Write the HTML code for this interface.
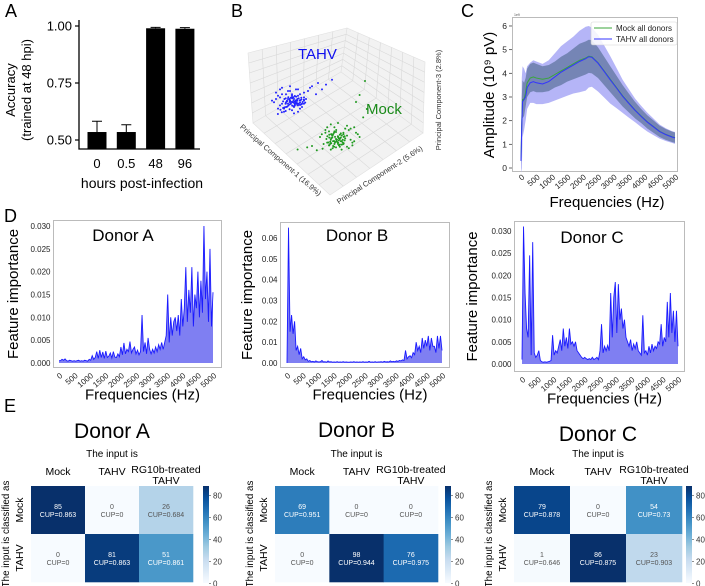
<!DOCTYPE html>
<html><head><meta charset="utf-8"><style>
html,body{margin:0;padding:0;background:#fff;}
svg{display:block;font-family:"Liberation Sans",sans-serif;}
</style></head><body>
<svg id="fig" width="705" height="586" viewBox="0 0 705 586">
<g font-size="18" fill="#000">
<text x="5" y="17">A</text>
<text x="231" y="17">B</text>
<text x="461" y="17">C</text>
<text x="4" y="222">D</text>
<text x="4" y="412">E</text>
</g>
<g id="pa"></g>
<g id="pb"></g>
<g id="pc"></g>
<g id="pd"></g>
<g id="pe"></g>
</svg>
<script>
// ---------- Panel A data ----------
const accCategories = ['0','0.5','48','96'];
const accValues = [0.535,0.535,0.99,0.988];
const accErrors = [0.047,0.032,0.004,0.005];
const accTicks = [0.50,0.75,1.00];
const accTickLabels = ['0.50','0.75','1.00'];

// ---------- Panel B data ----------
const tahvPC1 = [-8,-5,-3,0,2,4,6,-6,-2,1,3,5,-7,-4,-1,2,7,-9,-5,0,3,6,-3,1,-6,4,-2,8,10,13,15,12,17,20,-4,0,2,-1,5,-8,3,-5,1,-3,6,-2,0,4,-7,2,-10,9,-6,3,-1];
const tahvPC2 = [0,-3,2,-1,3,1,-4,4,-5,5,-2,3,-2,6,1,-6,0,2,-7,7,4,-1,-3,0,-6,6,3,-5,-8,-10,-6,-3,-9,-12,8,-2,2,-8,5,-4,-6,3,9,5,1,0,-3,-3,6,1,1,-7,-1,8,-5];
const mockPC1 = [-10,-7,-4,-1,2,5,8,11,-8,-5,-2,1,4,7,10,-6,-3,0,3,6,9,-9,-4,2,5,-1,8,12,-3,0,4,-6,1,7,-2,3,6,-5,9,0,14,16,10,12,15,-7,-2,5,3,-4];
const mockPC2 = [0,-3,2,-5,3,-1,4,-2,5,6,-4,1,-6,2,-3,-7,8,0,5,-5,3,-2,-9,9,-8,3,6,0,-1,-10,1,4,7,-6,5,-3,8,-4,-7,4,-14,-20,-25,-30,-40,-5,-7,7,-2,9];

// ---------- Panel C data ----------
const freqC = [0,25,50,100,150,200,300,400,500,700,900,1100,1300,1500,1700,1900,2100,2200,2300,2500,2700,2900,3100,3300,3500,3700,3900,4100,4300,4500,4700,4900,5000];
const mockMean = [0.3,2.0,2.9,2.9,3.2,3.6,3.8,3.85,3.8,3.75,3.8,3.95,4.1,4.25,4.4,4.55,4.65,4.72,4.7,4.45,4.1,3.75,3.4,3.05,2.75,2.45,2.2,1.95,1.75,1.55,1.42,1.32,1.28];
const tahvMean = [0.3,1.8,2.8,2.9,3.0,3.4,3.6,3.65,3.6,3.55,3.65,3.85,4.05,4.2,4.35,4.5,4.62,4.7,4.68,4.43,4.08,3.72,3.38,3.03,2.73,2.44,2.18,1.94,1.74,1.54,1.41,1.31,1.27];
const mockSd = [0.2,1.0,0.8,0.7,0.6,0.6,0.6,0.6,0.6,0.55,0.55,0.55,0.6,0.6,0.65,0.7,0.7,0.7,0.7,0.65,0.6,0.55,0.5,0.45,0.4,0.35,0.3,0.28,0.26,0.24,0.23,0.22,0.22];
const tahvSd = [0.3,2.0,1.5,1.3,1.0,0.9,0.85,0.9,0.9,0.85,0.9,1.0,1.1,1.15,1.2,1.3,1.35,1.3,1.25,1.2,1.1,1.0,0.85,0.7,0.6,0.5,0.45,0.4,0.35,0.3,0.27,0.25,0.25];
const ampTicks = [0,1,2,3,4,5,6];
const freqTicks = [0,500,1000,1500,2000,2500,3000,3500,4000,4500,5000];

// ---------- Panel D data ----------
const fiDonorA = [0.0005,0.0005,0.0008,0.0006,0.0009,0.0005,0.0004,0.0006,0.0005,0.0004,0.0005,0.0004,0.0005,0.0006,0.0004,0.0005,0.0004,0.0006,0.0005,0.0004,0.0008,
0.0006,0.0016,0.0008,0.0012,0.0025,0.0010,0.0028,0.0012,0.0024,0.0010,0.0026,0.0012,0.0015,0.0022,0.0011,0.0025,0.0013,0.0012,0.0020,0.0014,
0.0035,0.0018,0.0044,0.0020,0.0030,0.0025,0.0047,0.0022,0.0030,0.0035,0.0020,0.0028,0.0018,0.0025,0.0105,0.0025,0.0045,0.0020,0.0055,0.0030,
0.0020,0.0030,0.0022,0.0035,0.0025,0.0040,0.0030,0.0045,0.0030,0.0045,0.0060,0.0150,0.0045,0.0100,0.0060,0.0090,0.0100,0.0070,0.0105,0.0060,0.0140,
0.0080,0.0120,0.0210,0.0090,0.0160,0.0110,0.0210,0.0080,0.0150,0.0120,0.0200,0.0100,0.0180,0.0110,0.0300,0.0140,0.0200,0.0090,0.0250,0.0080,0.0155];
const fiDonorB = [0.0000,0.0650,0.0150,0.0230,0.0140,0.0200,0.0060,0.0080,0.0040,0.0070,0.0020,0.0030,0.0015,0.0020,0.0008,0.0012,0.0006,0.0008,0.0005,0.0010,0.0006,
0.0005,0.0006,0.0012,0.0005,0.0006,0.0004,0.0010,0.0005,0.0006,0.0004,0.0005,0.0004,0.0006,0.0004,0.0005,0.0004,0.0006,0.0004,0.0005,0.0004,
0.0004,0.0005,0.0004,0.0006,0.0004,0.0005,0.0004,0.0005,0.0004,0.0006,0.0004,0.0005,0.0004,0.0008,0.0004,0.0005,0.0004,0.0006,0.0004,0.0005,
0.0005,0.0006,0.0004,0.0008,0.0005,0.0006,0.0005,0.0010,0.0006,0.0008,0.0006,0.0010,0.0008,0.0012,0.0010,0.0015,0.0012,0.0060,0.0020,0.0030,0.0035,
0.0025,0.0050,0.0040,0.0100,0.0060,0.0080,0.0050,0.0120,0.0070,0.0110,0.0080,0.0130,0.0060,0.0120,0.0080,0.0080,0.0050,0.0130,0.0070,0.0130,0.0060];
const fiDonorC = [0.0010,0.0310,0.0160,0.0080,0.0060,0.0245,0.0020,0.0275,0.0025,0.0015,0.0020,0.0030,0.0008,0.0005,0.0004,0.0005,0.0004,0.0005,0.0006,0.0008,0.0065,
0.0020,0.0030,0.0025,0.0040,0.0055,0.0030,0.0080,0.0040,0.0060,0.0035,0.0080,0.0045,0.0050,0.0040,0.0050,0.0030,0.0025,0.0020,0.0015,0.0012,
0.0015,0.0012,0.0010,0.0012,0.0010,0.0015,0.0010,0.0012,0.0015,0.0010,0.0030,0.0090,0.0025,0.0040,0.0030,0.0042,0.0030,0.0160,0.0060,0.0150,
0.0185,0.0070,0.0180,0.0100,0.0125,0.0080,0.0100,0.0060,0.0050,0.0040,0.0055,0.0030,0.0045,0.0035,0.0050,0.0030,0.0025,0.0020,0.0110,0.0025,0.0030,
0.0020,0.0040,0.0025,0.0045,0.0030,0.0040,0.0035,0.0050,0.0045,0.0090,0.0040,0.0060,0.0050,0.0140,0.0060,0.0160,0.0070,0.0120,0.0050,0.0120,0.0040];
const fiTicksAC = [0,0.005,0.010,0.015,0.020,0.025,0.030];
const fiTickLabelsAC = ['0.000','0.005','0.010','0.015','0.020','0.025','0.030'];
const fiTicksB = [0,0.01,0.02,0.03,0.04,0.05,0.06];
const fiTickLabelsB = ['0.00','0.01','0.02','0.03','0.04','0.05','0.06'];

// ---------- Panel E data ----------
const cmColumns = ['Mock','TAHV','RG10b-treated TAHV'];
const cmRows = ['Mock','TAHV'];
const cmDonorA = [[85,0,26],[0,81,51]];
const cupDonorA = [['0.863','0','0.684'],['0','0.863','0.861']];
const cmDonorB = [[69,0,0],[0,98,76]];
const cupDonorB = [['0.951','0','0'],['0','0.944','0.975']];
const cmDonorC = [[79,0,54],[1,86,23]];
const cupDonorC = [['0.878','0','0.73'],['0.646','0.875','0.903']];
const cbTicks = [0,20,40,60,80];

const NS='http://www.w3.org/2000/svg';
function mk(parent,tag,attrs,text){const e=document.createElementNS(NS,tag);for(const k in attrs)e.setAttribute(k,attrs[k]);if(text!==undefined)e.textContent=text;parent.appendChild(e);return e;}

// ===== Panel A =====
(function(){
  const g=document.getElementById('pa');
  const y=v=>140-(v-0.5)*228;
  const xc=i=>97+i*29.3;
  const ax=mk(g,'path',{d:'M79,20 V149 H200',fill:'none',stroke:'#000','stroke-width':1.3});
  
  
  accTicks.forEach((t,i)=>{
    const tk=mk(g,'line',{x1:75,x2:79,y1:y(t),y2:y(t),stroke:'#000','stroke-width':1.2});
    
    
    const tl=mk(g,'text',{x:72,y:y(t)+4.5,'text-anchor':'end','font-size':13},accTickLabels[i]);
    
    
  });
  accValues.forEach((v,i)=>{
    const b=mk(g,'rect',{x:xc(i)-9.5,y:y(v),width:19,height:149-y(v),fill:'#000'});
    
    
    const e=mk(g,'path',{d:`M${xc(i)},${y(v)} V${y(v+accErrors[i])} M${xc(i)-5},${y(v+accErrors[i])} H${xc(i)+5}`,stroke:'#000','stroke-width':1,fill:'none'});
    
    
    const l=mk(g,'text',{x:xc(i),y:168,'text-anchor':'middle','font-size':13},accCategories[i]);
    
    
  });
  const xt=mk(g,'text',{x:142,y:188,'text-anchor':'middle','font-size':14},'hours post-infection');
  
  
  const yt=mk(g,'text',{transform:'translate(15,90) rotate(-90)','text-anchor':'middle','font-size':13},'Accuracy');
  
  
  const yt2=mk(g,'text',{transform:'translate(31,90) rotate(-90)','text-anchor':'middle','font-size':13},'(trained at 48 hpi)');
  
  
})();

// ===== Panel B =====
(function(){
  const g=document.getElementById('pb');
  const panes=[
    ['b-left-wall','248,53 347,28 341,72 253,123'],
    ['b-right-wall','347,28 425,62 423,133 341,72'],
    ['b-floor','253,123 341,72 423,133 330,195']];
  panes.forEach(p=>{const e=mk(g,'polygon',{points:p[1],fill:'#f2f2f2',stroke:'#e0e0e0','stroke-width':0.6});
    
    });
  const lerp=(a,b,t)=>[a[0]+(b[0]-a[0])*t,a[1]+(b[1]-a[1])*t];
  const grid=mk(g,'g',{stroke:'#d8d8d8','stroke-width':0.6});
  
  
  const L=[[248,53],[347,28],[341,72],[253,123]],R=[[347,28],[425,62],[423,133],[341,72]],F=[[253,123],[341,72],[423,133],[330,195]];
  [L,R,F].forEach(q=>{for(let k=1;k<7;k++){const t=k/7;
    let a=lerp(q[0],q[1],t),b=lerp(q[3],q[2],t);mk(grid,'line',{x1:a[0],y1:a[1],x2:b[0],y2:b[1]});
    a=lerp(q[0],q[3],t);b=lerp(q[1],q[2],t);mk(grid,'line',{x1:a[0],y1:a[1],x2:b[0],y2:b[1]});}});
  const pts=mk(g,'g',{});
  
  
  const n1=Math.min(tahvPC1.length,tahvPC2.length);
  for(let i=0;i<n1;i++){const c=mk(pts,'circle',{cx:292+2.0*tahvPC1[i],cy:99+1.6*tahvPC2[i],r:1.0,fill:'#2222ff'});
    
    
    const c2=mk(pts,'circle',{cx:292+1.3*tahvPC2[i]+1.5,cy:101+1.0*tahvPC1[i]*0.6+1,r:1.0,fill:'#2222ff'});
    
    }
  const n2=Math.min(mockPC1.length,mockPC2.length);
  for(let i=0;i<n2;i++){const c=mk(pts,'circle',{cx:338+1.8*mockPC1[i],cy:137+1.4*mockPC2[i],r:1.0,fill:'#1f9a1f'});
    
    
    const c2=mk(pts,'circle',{cx:336+1.6*mockPC2[i]*0.6,cy:139+1.0*mockPC1[i]*0.7,r:1.0,fill:'#1f9a1f'});
    
    }
  const t1=mk(g,'text',{x:298,y:59,'font-size':15,fill:'#1010ee'},'TAHV');
  
  
  const t2=mk(g,'text',{x:366,y:114,'font-size':15,fill:'#1a8a1a'},'Mock');
  
  
  const a1=mk(g,'text',{transform:'translate(279,162) rotate(41)','text-anchor':'middle','font-size':7.5,fill:'#333'},'Principal Component-1 (16.9%)');
  
  
  const a2=mk(g,'text',{transform:'translate(381,177) rotate(-33)','text-anchor':'middle','font-size':7.5,fill:'#333'},'Principal Component-2 (5.6%)');
  
  
  const a3=mk(g,'text',{transform:'translate(441,100) rotate(-90)','text-anchor':'middle','font-size':7.5,fill:'#333'},'Principal Component-3 (2.8%)');
  
  
})();

// ===== Panel C =====
(function(){
  const g=document.getElementById('pc');
  const x=f=>521+f/5000*154, y=v=>168-v*23.67;
  const fr=mk(g,'rect',{x:512.5,y:17.5,width:165,height:154,fill:'#fff',stroke:'#bbb','stroke-width':1});
  
  
  function band(mean,sd,fill,name){
    let d='M'+freqC.map((f,i)=>x(f)+','+y(mean[i]+sd[i])).join(' L');
    d+=' L'+freqC.map((f,i)=>x(f)+','+y(mean[i]-sd[i])).reverse().join(' L')+'Z';
    const e=mk(g,'path',{d:d,fill:fill,stroke:'none'});
    
    
  }
  band(tahvMean,tahvSd,'#b5b5f7','c-tahv-sd-band');
  band(mockMean,mockSd,'#7585b5','c-mock-sd-band');
  function line(mean,col,name){
    const e=mk(g,'path',{d:'M'+freqC.map((f,i)=>x(f)+','+y(mean[i])).join(' L'),fill:'none',stroke:col,'stroke-width':1});
    
    
  }
  line(mockMean,'#3aa63a','c-mock-line');
  line(tahvMean,'#3333ff','c-tahv-line');
  ampTicks.forEach(t=>{
    const tk=mk(g,'line',{x1:509,x2:512,y1:y(t),y2:y(t),stroke:'#444','stroke-width':0.8});
    
    
    const l=mk(g,'text',{x:507,y:y(t)+3,'text-anchor':'end','font-size':8.5,fill:'#222'},String(t));
    
    
  });
  freqTicks.forEach(t=>{
    const l=mk(g,'text',{transform:`translate(${x(t)+4},${178}) rotate(-40)`,'text-anchor':'end','font-size':8,fill:'#222'},String(t));
    
    
  });
  const sm=mk(g,'text',{x:514,y:16,'font-size':3.5,fill:'#555'},'1e9');
  
  
  const lg=mk(g,'g',{});
  
  
  mk(lg,'rect',{x:591,y:22,width:86,height:23,fill:'#fff',stroke:'#ccc','stroke-width':0.6,rx:2,opacity:0.85});
  mk(lg,'line',{x1:594,x2:612,y1:28,y2:28,stroke:'#3aa63a','stroke-width':1});
  mk(lg,'line',{x1:594,x2:612,y1:39,y2:39,stroke:'#3333ff','stroke-width':1});
  const l1=mk(lg,'text',{x:616,y:31,'font-size':8,fill:'#222'},'Mock all donors');
  
  
  const l2=mk(lg,'text',{x:616,y:42,'font-size':8,fill:'#222'},'TAHV all donors');
  
  
  const xt=mk(g,'text',{x:607,y:207,'text-anchor':'middle','font-size':15},'Frequencies (Hz)');
  
  
  const yt=mk(g,'text',{transform:'translate(494,95) rotate(-90)','text-anchor':'middle','font-size':15},'Amplitude (10⁹ pV)');
  
  
})();

// ===== Panel D =====
(function(){
  const g=document.getElementById('pd');
  function fi(cfg){
    const sub=mk(g,'g',{});
    
    
    const x=f=>cfg.x0+f/5000*(cfg.x1-cfg.x0);
    const y=v=>cfg.y0-v/cfg.ymax*(cfg.y0-cfg.ytop);
    const fr=mk(sub,'rect',{x:cfg.fx,y:cfg.fy,width:cfg.fw,height:cfg.fh,fill:'#fff',stroke:'#bbb','stroke-width':1});
    
    
    const step=5000/(cfg.data.length-1);
    const pts=cfg.data.map((v,i)=>x(i*step)+','+y(v));
    const area=mk(sub,'path',{d:`M${x(0)},${y(0)} L${pts.join(' L')} L${x(5000)},${y(0)}Z`,fill:'#7f7ff2',stroke:'none'});
    
    
    const ln=mk(sub,'path',{d:'M'+pts.join(' L'),fill:'none',stroke:'#1a1aff','stroke-width':0.9});
    
    
    cfg.ticks.forEach((t,i)=>{
      const l=mk(sub,'text',{x:cfg.fx-3,y:y(t)+3,'text-anchor':'end','font-size':8,fill:'#222'},cfg.labels[i]);
      
      
    });
    freqTicks.forEach(t=>{
      const l=mk(sub,'text',{transform:`translate(${x(t)+4},${cfg.fy+cfg.fh+9}) rotate(-40)`,'text-anchor':'end','font-size':8,fill:'#222'},String(t));
      
      
    });
    const tt=mk(sub,'text',{x:cfg.tx,y:cfg.ty,'text-anchor':'middle','font-size':17},cfg.title);
    
    
    const xt=mk(sub,'text',{x:cfg.fx+cfg.fw/2+5,y:cfg.fy+cfg.fh+32,'text-anchor':'middle','font-size':15},'Frequencies (Hz)');
    
    
    const yt=mk(sub,'text',{transform:`translate(${cfg.ylx},${cfg.fy+cfg.fh/2}) rotate(-90)`,'text-anchor':'middle','font-size':15},'Feature importance');
    
    
  }
  fi({name:'d-donor-a-chart',data:fiDonorA,ymax:0.03,ticks:fiTicksAC,labels:fiTickLabelsAC,fx:53.5,fy:220.5,fw:168,fh:147,x0:59,x1:213,y0:363,ytop:226,tx:123,ty:241,title:'Donor A',ylx:18});
  fi({name:'d-donor-b-chart',data:fiDonorB,ymax:0.06,ticks:fiTicksB,labels:fiTickLabelsB,fx:280.5,fy:222.5,fw:169,fh:145,x0:287,x1:442,y0:363,ytop:238,tx:357,ty:241,title:'Donor B',ylx:252});
  fi({name:'d-donor-c-chart',data:fiDonorC,ymax:0.03,ticks:fiTicksAC,labels:fiTickLabelsAC,fx:514.5,fy:221.5,fw:170,fh:150,x0:522,x1:678,y0:364,ytop:231,tx:592,ty:243,title:'Donor C',ylx:477});
})();

// ===== Panel E =====
(function(){
  const g=document.getElementById('pe');
  const defs=mk(document.getElementById('fig'),'defs',{});
  const stops=['#f7fbff','#deebf7','#c6dbef','#9ecae1','#6baed6','#4292c6','#2171b5','#08519c','#08306b'];
  const gr=mk(defs,'linearGradient',{id:'blues',x1:0,y1:1,x2:0,y2:0});
  stops.forEach((c,i)=>mk(gr,'stop',{offset:i/8,'stop-color':c}));
  const hex=h=>[1,3,5].map(k=>parseInt(h.substr(k,2),16));
  function color(v,vmax){let t=Math.max(0,Math.min(1,v/vmax))*8;const i=Math.min(7,Math.floor(t)),f=t-i;
    const a=hex(stops[i]),b=hex(stops[i+1]);return 'rgb('+a.map((c,k)=>Math.round(c+(b[k]-c)*f)).join(',')+')';}
  function cm(cfg){
    const sub=mk(g,'g',{});
    
    
    const vmax=Math.max(...cfg.vals.flat());
    const cw=cfg.w/3,ch=48,top=486;
    cfg.vals.forEach((row,r)=>row.forEach((v,c)=>{
      const cell=mk(sub,'rect',{x:cfg.x+c*cw,y:top+r*ch,width:cw+0.3,height:ch+0.3,fill:color(v,vmax)});
      
      
      const tc=v/vmax>0.55?'#fff':'#555';
      const t1=mk(sub,'text',{x:cfg.x+c*cw+cw/2,y:top+r*ch+ch/2-1,'text-anchor':'middle','font-size':7,fill:tc},String(v));
      
      
      const t2=mk(sub,'text',{x:cfg.x+c*cw+cw/2,y:top+r*ch+ch/2+7,'text-anchor':'middle','font-size':7,fill:tc},'CUP='+cfg.cup[r][c]);
      
      
    }));
    const cb=mk(sub,'rect',{x:cfg.cbx,y:top,width:6,height:97,fill:'url(#blues)'});
    
    
    cbTicks.forEach(t=>{const yy=top+97-t/88*97+0.5;
      mk(sub,'line',{x1:cfg.cbx+6,x2:cfg.cbx+8,y1:yy,y2:yy,stroke:'#444','stroke-width':0.6});
      const l=mk(sub,'text',{x:cfg.cbx+10,y:yy+3,'font-size':8,fill:'#333'},String(t));
      
      });
    const cx=cfg.x+cfg.w/2;
    const tt=mk(sub,'text',{x:cx,y:cfg.ty,'text-anchor':'middle','font-size':21},cfg.title);
    
    
    const it=mk(sub,'text',{x:cx,y:457,'text-anchor':'middle','font-size':10},'The input is');
    
    
    cmColumns.forEach((c,i)=>{
      const xx=cfg.x+i*cw+cw/2;
      if(i<2){const l=mk(sub,'text',{x:xx,y:475,'text-anchor':'middle','font-size':10.5},c);
        
        }
      else{const l=mk(sub,'text',{x:xx,y:473,'text-anchor':'middle','font-size':10.5},'RG10b-treated');
        
        
        const l2=mk(sub,'text',{x:xx,y:484,'text-anchor':'middle','font-size':10.5},'TAHV');
        
        }
    });
    cmRows.forEach((r,i)=>{const l=mk(sub,'text',{transform:`translate(${cfg.x-8},${top+i*ch+ch/2}) rotate(-90)`,'text-anchor':'middle','font-size':10.5},r);
      
      });
    const yl=mk(sub,'text',{transform:`translate(${cfg.x-22},${534}) rotate(-90)`,'text-anchor':'middle','font-size':9.8},'The input is classified as');
    
    
  }
  cm({name:'e-donor-a-matrix',vals:cmDonorA,cup:cupDonorA,x:31,w:162,cbx:203,title:'Donor A',ty:438});
  cm({name:'e-donor-b-matrix',vals:cmDonorB,cup:cupDonorB,x:275,w:163,cbx:445,title:'Donor B',ty:437});
  cm({name:'e-donor-c-matrix',vals:cmDonorC,cup:cupDonorC,x:514,w:168,cbx:686,title:'Donor C',ty:441});
})();
</script>
</body></html>
